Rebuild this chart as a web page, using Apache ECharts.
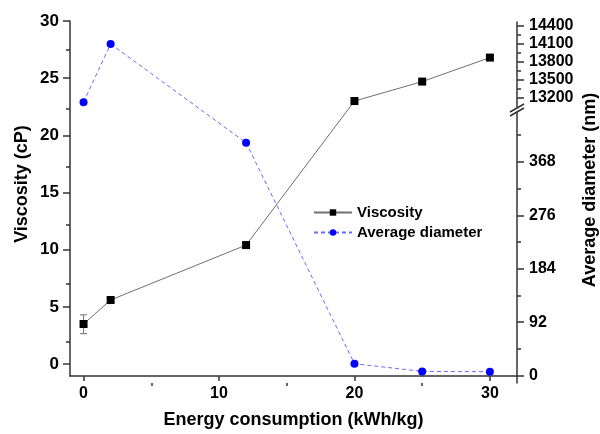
<!DOCTYPE html>
<html><head><meta charset="utf-8">
<script src="https://cdn.jsdelivr.net/npm/echarts@6/dist/echarts.min.js"></script>
<style>html,body{margin:0;padding:0;background:#fff}#c{width:600px;height:434px}</style>
</head><body><div id="c"></div>
<script>
// ---- data ----
const energy = [0, 2, 12, 20, 25, 30];
const viscosity = [3.5, 5.6, 10.4, 23.0, 24.7, 26.8];
const errorEnergy = [0];
const errorLow = [2.65];
const errorHigh = [4.3];
const diameter = [13120, 14090, 401, 20.6, 7.4, 6.9];
const lowSegmentMax = 454;      // top of lower part of broken right axis
const highSegmentMin = 13040;   // bottom of upper part of broken right axis
const xTicks = [0, 10, 20, 30];
const xMinorTicks = [5, 15, 25];
const viscTicks = [0, 5, 10, 15, 20, 25, 30];
const viscMinorTicks = [2.5, 7.5, 12.5, 17.5, 22.5, 27.5];
const diaLowTicks = [0, 92, 184, 276, 368];
const diaLowMinor = [46, 138, 230, 322, 414];
const diaHighTicks = [13200, 13500, 13800, 14100, 14400];
const diaHighMinor = [13350, 13650, 13950, 14250];

// ---- styles ----
const FONT = '"Liberation Sans", Arial, sans-serif';
const AX = '#333';
const lineCol = '#707070';
const blue = '#0000ff';
const blueLine = '#6a6aff';
const plain = v => String(v);
const labelStyle = {fontFamily: FONT, fontSize: 16, fontWeight: 'bold', color: '#000', formatter: plain};

const chart = echarts.init(document.getElementById('c'), null, {renderer: 'canvas'});

const rectMain = {left: 70, right: 83, top: 21, bottom: 51};
const rectLow = {left: 70, right: 83, top: 112, bottom: 51};
const rectHigh = {left: 70, right: 83, top: 22, bottom: 327};

function hiddenX(gi) {
  return {gridIndex: gi, type: 'value', min: -1, max: 32, show: false};
}
function axisLineOn() {
  return {show: true, onZero: false, lineStyle: {color: AX, width: 1.5}};
}

const upper = [], lower = [];
energy.forEach((e, i) => {
  if (diameter[i] > lowSegmentMax) upper.push([e, diameter[i]]);
  else lower.push([e, diameter[i]]);
});

const option = {
  animation: false,
  backgroundColor: '#fff',
  grid: [
    Object.assign({}, rectMain), Object.assign({}, rectLow), Object.assign({}, rectHigh),
    Object.assign({}, rectMain), Object.assign({}, rectLow), Object.assign({}, rectHigh)
  ],
  xAxis: [
    {
      gridIndex: 0, type: 'value', min: -1, max: 32, position: 'bottom',
      axisLine: axisLineOn(),
      axisTick: {show: true, customValues: xTicks, length: 5, lineStyle: {color: AX, width: 1.5}},
      axisLabel: Object.assign({customValues: xTicks, margin: 10}, labelStyle),
      splitLine: {show: false},
      name: 'Energy consumption (kWh/kg)', nameLocation: 'middle', nameGap: 35,
      nameTextStyle: {fontFamily: FONT, fontSize: 18, fontWeight: 'bold', color: '#000'}
    },
    hiddenX(1), hiddenX(2),
    {
      gridIndex: 3, type: 'value', min: -1, max: 32, position: 'bottom',
      axisLine: {show: false, onZero: false},
      axisTick: {show: true, customValues: xMinorTicks, length: 3, lineStyle: {color: AX, width: 1.5}},
      axisLabel: {show: false}, splitLine: {show: false}
    },
    hiddenX(4), hiddenX(5)
  ],
  yAxis: [
    {
      gridIndex: 0, type: 'value', min: -1.05, max: 30, position: 'left',
      axisLine: axisLineOn(),
      axisTick: {show: true, customValues: viscTicks, length: 7, lineStyle: {color: AX, width: 1.5}},
      axisLabel: Object.assign({}, labelStyle, {customValues: viscTicks, margin: 11, fontSize: 17}),
      splitLine: {show: false}
    },
    {
      gridIndex: 1, type: 'value', min: -12.6, max: lowSegmentMax, position: 'right',
      axisLine: axisLineOn(),
      axisTick: {show: true, customValues: diaLowTicks, length: 7, lineStyle: {color: AX, width: 1.5}},
      axisLabel: Object.assign({customValues: diaLowTicks, margin: 12}, labelStyle),
      splitLine: {show: false}
    },
    {
      gridIndex: 2, type: 'value', min: highSegmentMin, max: 14455, position: 'right',
      axisLine: axisLineOn(),
      axisTick: {show: true, customValues: diaHighTicks, length: 7, lineStyle: {color: AX, width: 1.5}},
      axisLabel: Object.assign({customValues: diaHighTicks, margin: 12}, labelStyle),
      splitLine: {show: false}
    },
    {
      gridIndex: 3, type: 'value', min: -1.05, max: 30, position: 'left',
      axisLine: {show: false, onZero: false},
      axisTick: {show: true, customValues: viscMinorTicks, length: 4, lineStyle: {color: AX, width: 1.5}},
      axisLabel: {show: false}, splitLine: {show: false}
    },
    {
      gridIndex: 4, type: 'value', min: -12.6, max: lowSegmentMax, position: 'right',
      axisLine: {show: false, onZero: false},
      axisTick: {show: true, customValues: diaLowMinor, length: 4, lineStyle: {color: AX, width: 1.5}},
      axisLabel: {show: false}, splitLine: {show: false}
    },
    {
      gridIndex: 5, type: 'value', min: highSegmentMin, max: 14455, position: 'right',
      axisLine: {show: false, onZero: false},
      axisTick: {show: true, customValues: diaHighMinor, length: 4, lineStyle: {color: AX, width: 1.5}},
      axisLabel: {show: false}, splitLine: {show: false}
    }
  ],
  legend: {
    orient: 'vertical', left: 313, top: 205, padding: 0, itemGap: 5,
    itemWidth: 38, itemHeight: 8,
    textStyle: {fontFamily: FONT, fontSize: 15, fontWeight: 'bold', color: '#000'},
    data: ['Viscosity', 'Average diameter']
  },
  series: [
    {
      name: 'Viscosity', type: 'line', xAxisIndex: 0, yAxisIndex: 0,
      data: energy.map((e, i) => [e, viscosity[i]]),
      symbol: 'rect', symbolSize: 8,
      itemStyle: {color: '#000'},
      lineStyle: {color: lineCol, width: 1}, z: 3
    },
    {
      name: 'err', type: 'custom', xAxisIndex: 0, yAxisIndex: 0,
      data: errorEnergy.map((e, i) => [e, errorLow[i], errorHigh[i]]),
      renderItem: function (params, api) {
        const x = api.value(0);
        const a = api.coord([x, api.value(1)]);
        const b = api.coord([x, api.value(2)]);
        const w = 3.5;
        const st = {stroke: '#707070', lineWidth: 1};
        return {type: 'group', children: [
          {type: 'line', shape: {x1: a[0], y1: a[1], x2: b[0], y2: b[1]}, style: st},
          {type: 'line', shape: {x1: a[0] - w, y1: a[1], x2: a[0] + w, y2: a[1]}, style: st},
          {type: 'line', shape: {x1: b[0] - w, y1: b[1], x2: b[0] + w, y2: b[1]}, style: st}
        ]};
      }, z: 2
    },
    {
      name: 'Average diameter', type: 'line', xAxisIndex: 2, yAxisIndex: 2,
      data: upper, symbol: 'circle', symbolSize: 8,
      itemStyle: {color: blue},
      lineStyle: {color: blueLine, width: 1, type: [4, 3]}, z: 3
    },
    {
      name: 'Average diameter', type: 'line', xAxisIndex: 1, yAxisIndex: 1,
      data: lower, symbol: 'circle', symbolSize: 8,
      itemStyle: {color: blue},
      lineStyle: {color: blueLine, width: 1, type: [4, 3]}, z: 3
    }
  ],
  graphic: [
    {id: 'tl', type: 'text', x: 22, y: 184, rotation: Math.PI / 2,
     style: {text: 'Viscosity (cP)', font: 'bold 18px ' + FONT, fill: '#000',
             textAlign: 'center', textVerticalAlign: 'middle', align: 'center', verticalAlign: 'middle'}},
    {id: 'tr', type: 'text', x: 590, y: 190, rotation: Math.PI / 2,
     style: {text: 'Average diameter (nm)', font: 'bold 18px ' + FONT, fill: '#000',
             textAlign: 'center', textVerticalAlign: 'middle', align: 'center', verticalAlign: 'middle'}},
    {id: 'b1', type: 'line', shape: {x1: 510, y1: 112, x2: 524, y2: 104}, style: {stroke: AX, lineWidth: 1.5}},
    {id: 'b2', type: 'line', shape: {x1: 510, y1: 116, x2: 524, y2: 108}, style: {stroke: AX, lineWidth: 1.5}}
  ]
};
chart.setOption(option);

// connecting segment across the axis break, positioned through the axes' own scales
const lastUp = upper[upper.length - 1];
const firstLow = lower[0];
const p1 = chart.convertToPixel({xAxisIndex: 2, yAxisIndex: 2}, lastUp);
const p2 = chart.convertToPixel({xAxisIndex: 1, yAxisIndex: 1}, firstLow);
chart.setOption({graphic: [
  {id: 'conn', type: 'line', z: 2,
   shape: {x1: p1[0], y1: p1[1], x2: p2[0], y2: p2[1]},
   style: {stroke: blueLine, lineWidth: 1, lineDash: [4, 3]}}
]});
</script>
</body></html>
